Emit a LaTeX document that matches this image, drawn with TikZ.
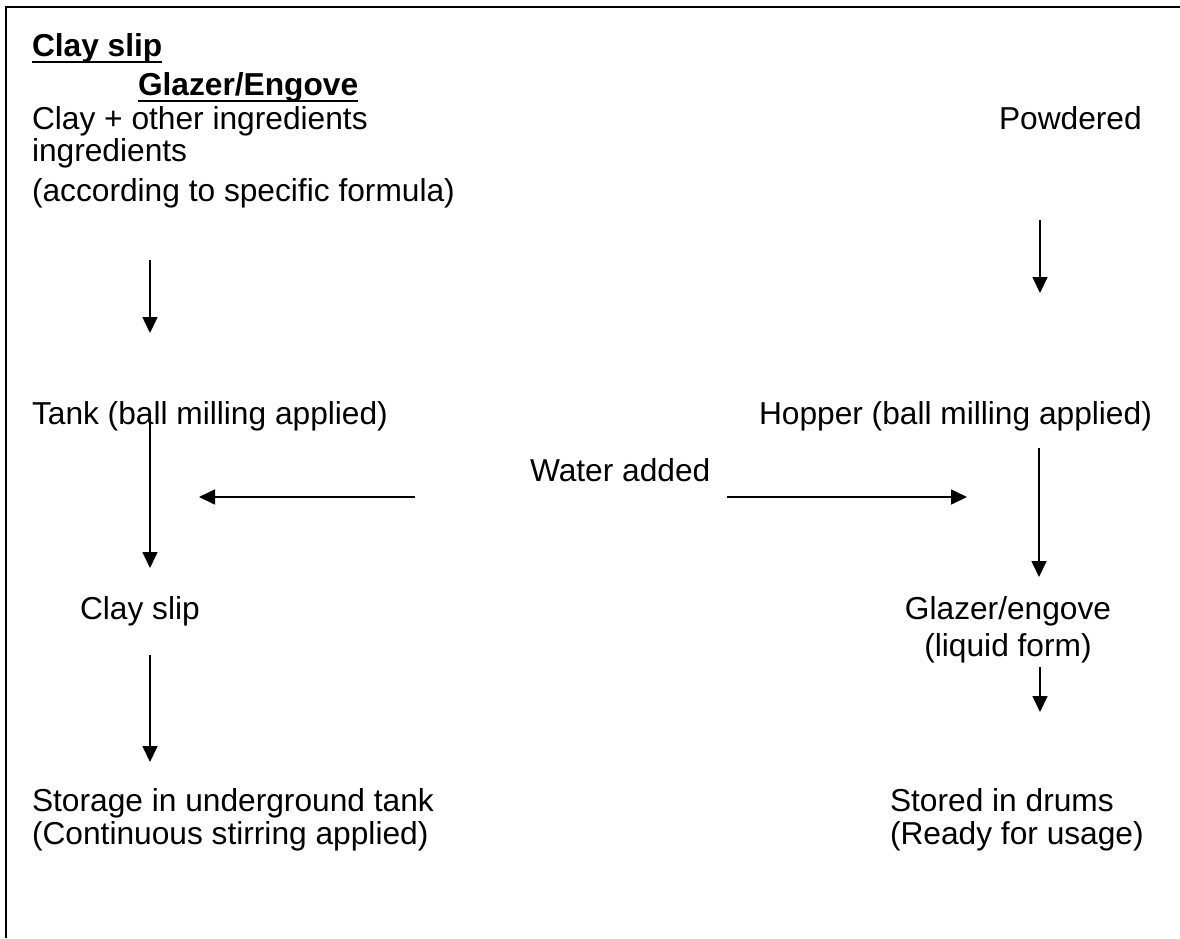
\documentclass[tikz,border=0pt]{standalone}
\usepackage{fontspec}
\setmainfont{Liberation Sans}
\usetikzlibrary{arrows.meta}
\begin{document}
\begin{tikzpicture}[x=1pt,y=-1pt,
  txt/.style={anchor=base west,inner sep=0pt,outer sep=0pt,font=\fontsize{31.7pt}{36pt}\selectfont},
  ctxt/.style={anchor=base,inner sep=0pt,outer sep=0pt,font=\fontsize{31.7pt}{36pt}\selectfont},
  head/.style={txt,font=\fontsize{31.7pt}{36pt}\selectfont\bfseries},
  uline/.style={line width=2.2pt},
  frame/.style={line width=2pt},
  flow/.style={line width=1.6pt,-{Triangle[length=16pt,width=15pt]}}]
\useasboundingbox (0,0) rectangle (1180,938);
\draw[frame] (6,938) -- (6,7) -- (1180,7);
% headings
\node[head] (h1) at (32,56) {Clay slip};
\node[head] (h2) at (138,95) {Glazer/Engove};
\draw[uline] ([yshift=-6pt]h1.base west) -- ([yshift=-6pt]h1.base east);
\draw[uline] ([yshift=-6pt]h2.base west) -- ([yshift=-6pt]h2.base east);
% left column
\node[txt] (a1) at (32,129) {Clay + other ingredients};
\node[txt] (a2) at (32,161) {ingredients};
\node[txt] (a3) at (32,201) {(according to specific formula)};
\node[txt] (b1) at (32,424) {Tank (ball milling applied)};
\node[txt] (c1) at (80,619) {Clay slip};
\node[txt] (d1) at (32,811) {Storage in underground tank};
\node[txt] (d1b) at (32,844) {(Continuous stirring applied)};
% right column
\node[txt] (p1) at (999,129) {Powdered};
\node[txt] (b2) at (759,424) {Hopper (ball milling applied)};
\node[ctxt] (c2) at (1008,619) {Glazer/engove};
\node[ctxt] (c2b) at (1008,656) {(liquid form)};
\node[txt] (d2) at (890,811) {Stored in drums};
\node[txt] (d2b) at (890,844) {(Ready for usage)};
% middle
\node[txt] (w) at (530,481) {Water added};
% arrow end points
\coordinate (s1) at (150,260); \coordinate (e1) at (150,333);
\coordinate (s2) at (1040,220); \coordinate (e2) at (1040,293);
\coordinate (s3) at (150,415); \coordinate (e3) at (150,568);
\coordinate (s4) at (415,497); \coordinate (e4) at (199,497);
\coordinate (s5) at (727,497); \coordinate (e5) at (967,497);
\coordinate (s6) at (1039,448); \coordinate (e6) at (1039,577);
\coordinate (s7) at (150,655); \coordinate (e7) at (150,762);
\coordinate (s8) at (1040,667); \coordinate (e8) at (1040,712);
\draw[flow] (s1) -- (e1);
\draw[flow] (s2) -- (e2);
\draw[flow] (s3) -- (e3);
\draw[flow] (s4) -- (e4);
\draw[flow] (s5) -- (e5);
\draw[flow] (s6) -- (e6);
\draw[flow] (s7) -- (e7);
\draw[flow] (s8) -- (e8);
\end{tikzpicture}
\end{document}
